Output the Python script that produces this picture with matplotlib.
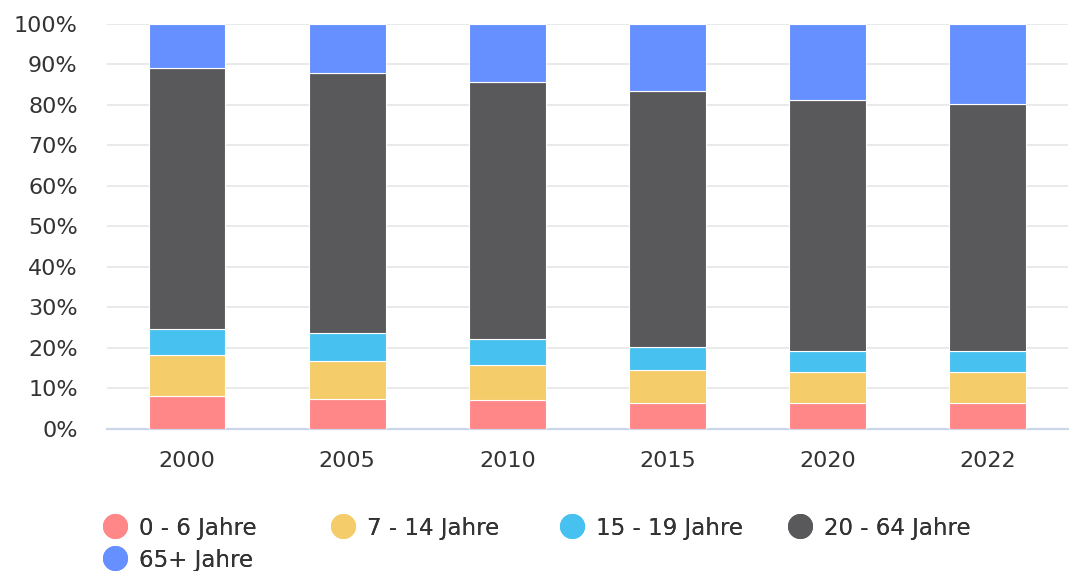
import matplotlib.pyplot as plt
import numpy as np
from matplotlib.lines import Line2D

# Anteil der Altersgruppen (in %)
jahre = ["2000", "2005", "2010", "2015", "2020", "2022"]
gruppen = ["0 - 6 Jahre", "7 - 14 Jahre", "15 - 19 Jahre", "20 - 64 Jahre", "65+ Jahre"]
farben = ["#ff8787", "#f4cd6a", "#47c1f0", "#59595b", "#6690ff"]

a_0_6 = [8.2, 7.4, 7.2, 6.4, 6.4, 6.4]
a_7_14 = [10.1, 9.5, 8.5, 8.2, 7.7, 7.7]
a_15_19 = [6.4, 6.7, 6.4, 5.7, 5.2, 5.2]
a_20_64 = [64.5, 64.3, 63.6, 63.2, 61.9, 60.9]
a_65 = [10.8, 12.1, 14.3, 16.5, 18.8, 19.8]

werte = [a_0_6, a_7_14, a_15_19, a_20_64, a_65]

W, H = 1069, 571
fig = plt.figure(figsize=(W / 100, H / 100), dpi=100)
ax = fig.add_axes([0.100, 0.2487, 0.899, 0.7093])

x = np.arange(len(jahre))
unten = np.zeros(len(jahre))
for w, f in zip(werte, farben):
    w = np.array(w) / 100
    ax.bar(x, w, 0.48, bottom=unten, color=f, edgecolor="white", linewidth=0.8, zorder=3)
    unten += w

ax.set_xlim(-0.5, len(jahre) - 0.5)
ax.set_ylim(0, 1)
ax.set_yticks(np.arange(0, 1.01, 0.1))
ax.set_yticklabels([f"{int(round(v * 100))}%" for v in np.arange(0, 1.01, 0.1)])
ax.set_xticks(x)
ax.set_xticklabels(jahre)

ax.grid(axis="y", color="#e6e6e6", linewidth=1.2, zorder=0)
for s in ["top", "right", "left"]:
    ax.spines[s].set_visible(False)
ax.spines["bottom"].set_color("#ccd6eb")
ax.spines["bottom"].set_linewidth(1.6)
ax.tick_params(axis="both", length=0, labelsize=16, colors="#333333")
ax.tick_params(axis="x", pad=16)
ax.tick_params(axis="y", pad=21)

# Legende mit festen Spaltenbreiten (4 pro Zeile), jeder Eintrag einzeln
for i, (g, f) in enumerate(zip(gruppen, farben)):
    h = Line2D([], [], marker="o", linestyle="", markersize=17,
               markerfacecolor=f, markeredgecolor=f)
    px = 101 + 228.5 * (i % 4)
    py = 528 + 32 * (i // 4)
    leg = fig.legend([h], [g], loc="center left",
                     bbox_to_anchor=(px / W, 1 - py / H),
                     frameon=False, fontsize=16.5, handletextpad=0.45,
                     handlelength=1.2, borderaxespad=0, borderpad=0,
                     labelcolor="#333333")
    fig.add_artist(leg)

fig.savefig("out.png", dpi=100)
